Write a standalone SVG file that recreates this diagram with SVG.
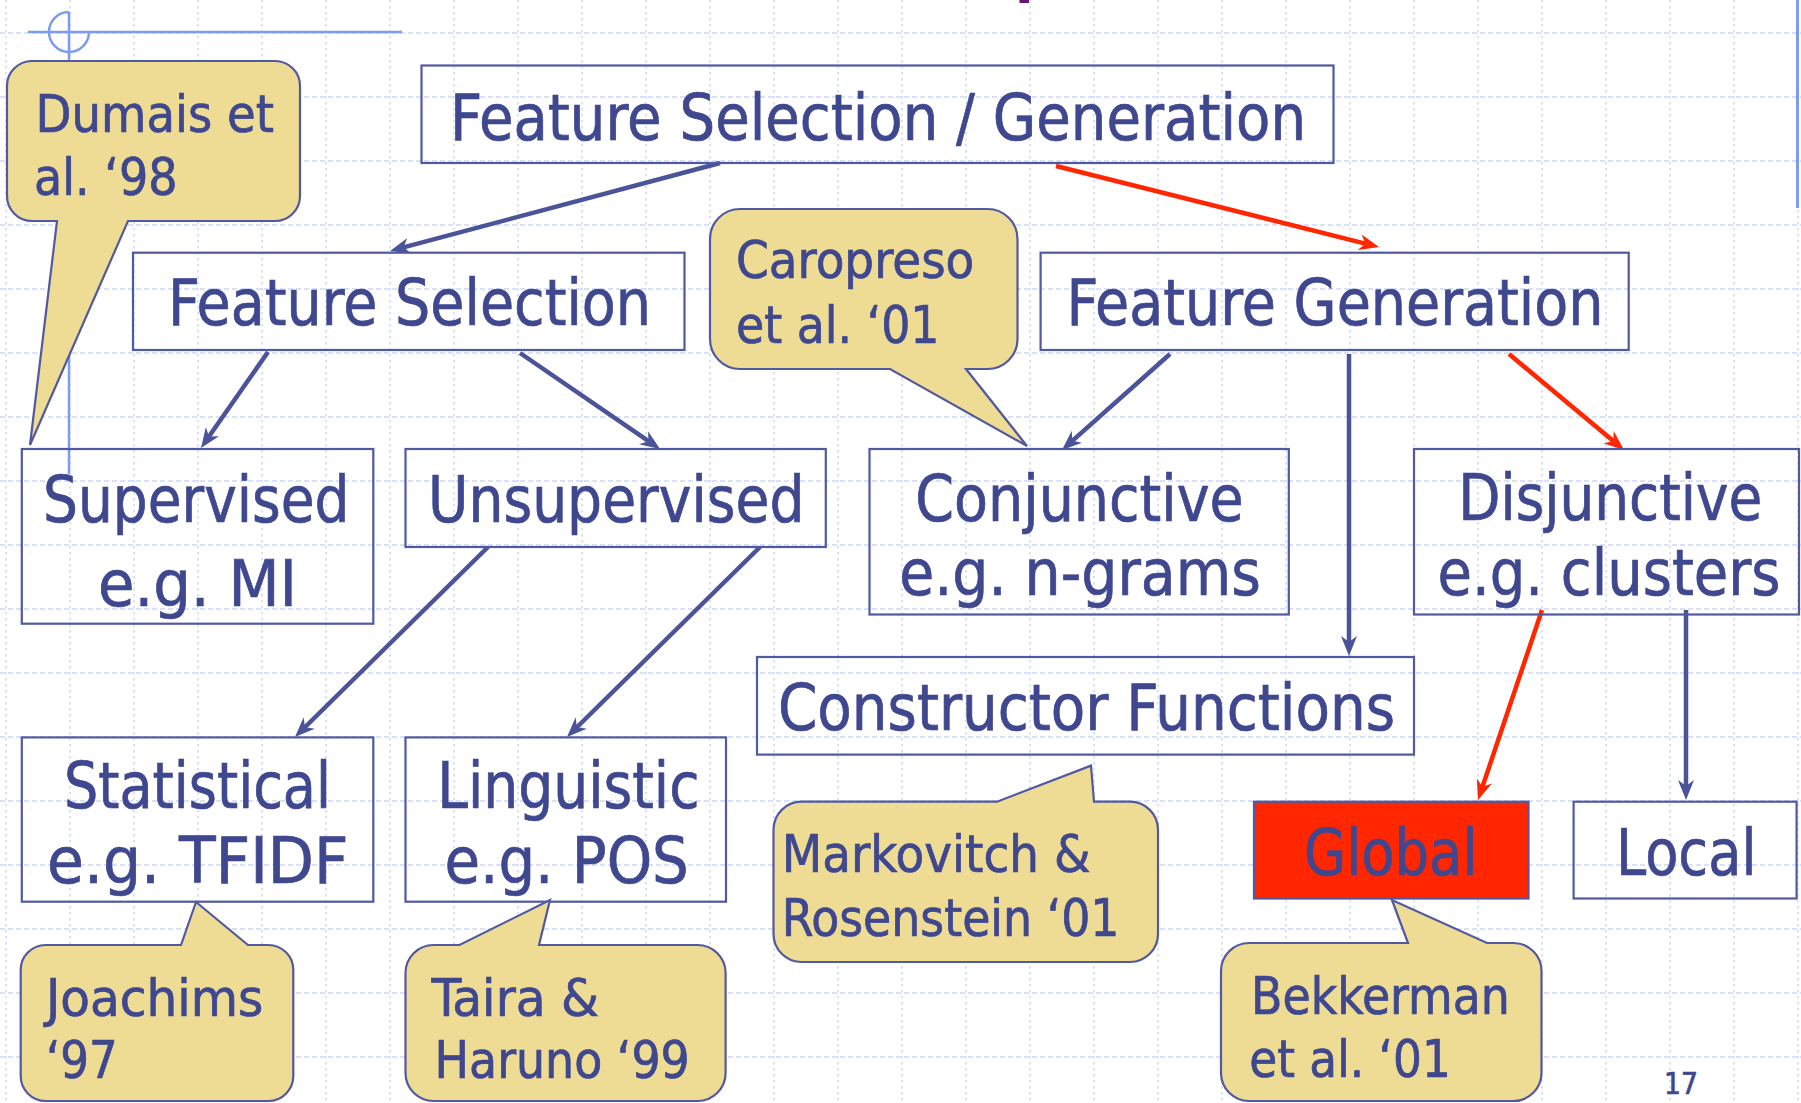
<svg xmlns="http://www.w3.org/2000/svg" width="1801" height="1103" viewBox="0 0 1801 1103">
<style>
.gv{fill:none;stroke:#d9e1f9;stroke-width:2;stroke-dasharray:2.5 3.5}
.gh{fill:none;stroke:#d9e1f9;stroke-width:2;stroke-dasharray:5 3}
.deco{fill:none;stroke:#7d9cf0;stroke-width:2.5}
.box{fill:none;stroke:#5159a0;stroke-width:2.2}
.callout{fill:#eedc95;stroke:#5159a0;stroke-width:2.2}
.conn{fill:none;stroke:#4b5399;stroke-width:4.5}
.red{stroke:#ff2600}
text{font-family:"DejaVu Sans Condensed","DejaVu Sans",sans-serif;fill:#3f478f;stroke:#3f478f;stroke-width:0.7}
.lbl{font-size:64px}
.note{font-size:51px}
</style>
<defs>
<marker id="ab" viewBox="0 0 20 16" refX="10" refY="8" markerWidth="20" markerHeight="16" markerUnits="userSpaceOnUse" orient="auto"><path d="M0,0 L20,8 L0,16 L6,8 Z" fill="#4b5399"/></marker>
<marker id="ar" viewBox="0 0 20 16" refX="10" refY="8" markerWidth="20" markerHeight="16" markerUnits="userSpaceOnUse" orient="auto"><path d="M0,0 L20,8 L0,16 L6,8 Z" fill="#ff2600"/></marker>
</defs>
<rect x="0" y="0" width="1801" height="1103" fill="#ffffff"/>
<g id="grid">
<path class="gv" d="M6,0V1103M70,0V1103M134,0V1103M198,0V1103M262,0V1103M326,0V1103M390,0V1103M454,0V1103M518,0V1103M582,0V1103M646,0V1103M710,0V1103M774,0V1103M838,0V1103M902,0V1103M966,0V1103M1030,0V1103M1094,0V1103M1158,0V1103M1222,0V1103M1286,0V1103M1350,0V1103M1414,0V1103M1478,0V1103M1542,0V1103M1606,0V1103M1670,0V1103M1734,0V1103M1798,0V1103"/>
<path class="gh" d="M0,33H1801M0,97H1801M0,161H1801M0,225H1801M0,289H1801M0,353H1801M0,417H1801M0,481H1801M0,545H1801M0,609H1801M0,673H1801M0,737H1801M0,801H1801M0,865H1801M0,929H1801M0,993H1801M0,1057H1801"/>
</g>
<g id="decoration">
<path class="deco" d="M69,12 A20,20 0 1 0 89,32"/>
<path class="deco" d="M28,32 H402 M69,12 V474"/>
<path class="deco" d="M1797.5,0 V208" style="stroke-width:3"/>
<rect x="1019.5" y="0" width="9.5" height="3" fill="#6a1470"/>
</g>
<g id="connectors">
<line class="conn" x1="720" y1="163" x2="399.7" y2="248.4" marker-end="url(#ab)"/>
<line class="conn red" x1="1056" y1="166" x2="1369.3" y2="244.6" marker-end="url(#ar)"/>
<line class="conn" x1="268" y1="352" x2="206.7" y2="439.8" marker-end="url(#ab)"/>
<line class="conn" x1="520" y1="353" x2="651.8" y2="443.4" marker-end="url(#ab)"/>
<line class="conn" x1="1170" y1="354" x2="1069.5" y2="443.4" marker-end="url(#ab)"/>
<line class="conn" x1="1349" y1="354" x2="1349" y2="646" marker-end="url(#ab)"/>
<line class="conn red" x1="1509" y1="354" x2="1616.3" y2="443.6" marker-end="url(#ar)"/>
<line class="conn" x1="488" y1="547" x2="302.1" y2="730" marker-end="url(#ab)"/>
<line class="conn" x1="760" y1="547" x2="574.1" y2="730" marker-end="url(#ab)"/>
<line class="conn red" x1="1542" y1="610" x2="1481.2" y2="790.5" marker-end="url(#ar)"/>
<line class="conn" x1="1686" y1="610" x2="1686" y2="790" marker-end="url(#ab)"/>
</g>
<g id="n-fsg"><rect class="box" x="421.5" y="65.5" width="912" height="97.5"/><text class="lbl" x="450" y="139.5" textLength="856" lengthAdjust="spacingAndGlyphs">Feature Selection / Generation</text></g>
<g id="n-fs"><rect class="box" x="133" y="252.7" width="551.5" height="97.3"/><text class="lbl" x="168" y="325" textLength="483" lengthAdjust="spacingAndGlyphs">Feature Selection</text></g>
<g id="n-fg"><rect class="box" x="1040.6" y="252.7" width="588.1" height="97.3"/><text class="lbl" x="1066.5" y="325" textLength="537" lengthAdjust="spacingAndGlyphs">Feature Generation</text></g>
<g id="n-sup"><rect class="box" x="21.8" y="449" width="351.5" height="174.7"/><text class="lbl" x="43" y="522" textLength="306.5" lengthAdjust="spacingAndGlyphs">Supervised</text><text class="lbl" x="98" y="606" textLength="199" lengthAdjust="spacingAndGlyphs">e.g. MI</text></g>
<g id="n-unsup"><rect class="box" x="405.5" y="449" width="420.3" height="98"/><text class="lbl" x="428" y="522" textLength="376.5" lengthAdjust="spacingAndGlyphs">Unsupervised</text></g>
<g id="n-conj"><rect class="box" x="869.5" y="449" width="419.3" height="165.5"/><text class="lbl" x="915.3" y="521" textLength="328.5" lengthAdjust="spacingAndGlyphs">Conjunctive</text><text class="lbl" x="899.2" y="595" textLength="361.6" lengthAdjust="spacingAndGlyphs">e.g. n-grams</text></g>
<g id="n-disj"><rect class="box" x="1414" y="449" width="385" height="165.5"/><text class="lbl" x="1458.2" y="520" textLength="304" lengthAdjust="spacingAndGlyphs">Disjunctive</text><text class="lbl" x="1437.5" y="595" textLength="343" lengthAdjust="spacingAndGlyphs">e.g. clusters</text></g>
<g id="n-cons"><rect class="box" x="757" y="657" width="657" height="97.6"/><text class="lbl" x="778" y="730.4" textLength="617" lengthAdjust="spacingAndGlyphs">Constructor Functions</text></g>
<g id="n-stat"><rect class="box" x="21.8" y="737.4" width="351.5" height="164.3"/><text class="lbl" x="64" y="807.7" textLength="267" lengthAdjust="spacingAndGlyphs">Statistical</text><text class="lbl" x="47" y="882.8" textLength="301.5" lengthAdjust="spacingAndGlyphs">e.g. TFIDF</text></g>
<g id="n-ling"><rect class="box" x="405.5" y="737.4" width="320.5" height="164.3"/><text class="lbl" x="437.2" y="807.7" textLength="262.3" lengthAdjust="spacingAndGlyphs">Linguistic</text><text class="lbl" x="444.5" y="882.8" textLength="244.3" lengthAdjust="spacingAndGlyphs">e.g. POS</text></g>
<g id="n-global"><rect class="box" x="1254" y="801.7" width="274.5" height="96.8" style="fill:#ff2600"/><text class="lbl" x="1304" y="875" textLength="173.5" lengthAdjust="spacingAndGlyphs">Global</text></g>
<g id="n-local"><rect class="box" x="1573.6" y="801.7" width="223" height="96.8"/><text class="lbl" x="1616" y="875" textLength="140.5" lengthAdjust="spacingAndGlyphs">Local</text></g>
<g id="c-dumais"><path class="callout" d="M32,61 H275 A25,25 0 0 1 300,86 V196 A25,25 0 0 1 275,221 H128 L30,445 L57,221 H32 A25,25 0 0 1 7,196 V86 A25,25 0 0 1 32,61 Z"/><text class="note" x="35.6" y="132.3" textLength="238.4" lengthAdjust="spacingAndGlyphs">Dumais et</text><text class="note" x="34" y="195" textLength="143.5" lengthAdjust="spacingAndGlyphs">al. ‘98</text></g>
<g id="c-caropreso"><path class="callout" d="M740,209 H987.5 A30,30 0 0 1 1017.5,239 V339 A30,30 0 0 1 987.5,369 H966 L1027,446 L890,369 H740 A30,30 0 0 1 710,339 V239 A30,30 0 0 1 740,209 Z"/><text class="note" x="736" y="278.3" textLength="238.3" lengthAdjust="spacingAndGlyphs">Caropreso</text><text class="note" x="736" y="343.3" textLength="203.5" lengthAdjust="spacingAndGlyphs">et al. ‘01</text></g>
<g id="c-joachims"><path class="callout" d="M45.7,945 H181 L196,902 L248,945 H268.3 A25,25 0 0 1 293.3,970 V1076 A25,25 0 0 1 268.3,1101 H45.7 A25,25 0 0 1 20.7,1076 V970 A25,25 0 0 1 45.7,945 Z"/><text class="note" x="46" y="1015.8" textLength="217.3" lengthAdjust="spacingAndGlyphs">Joachims</text><text class="note" x="46" y="1078" textLength="71.8" lengthAdjust="spacingAndGlyphs">‘97</text></g>
<g id="c-taira"><path class="callout" d="M433.5,945 H459.5 L550,900 L539,945 H697.6 A28,28 0 0 1 725.6,973 V1073 A28,28 0 0 1 697.6,1101 H433.5 A28,28 0 0 1 405.5,1073 V973 A28,28 0 0 1 433.5,945 Z"/><text class="note" x="431.4" y="1015.8" textLength="167.8" lengthAdjust="spacingAndGlyphs">Taira &amp;</text><text class="note" x="434.5" y="1078" textLength="255.3" lengthAdjust="spacingAndGlyphs">Haruno ‘99</text></g>
<g id="c-markovitch"><path class="callout" d="M801.5,801.7 H997 L1091,765.6 L1094,801.7 H1130 A28,28 0 0 1 1158,829.7 V934 A28,28 0 0 1 1130,962 H801.5 A28,28 0 0 1 773.5,934 V829.7 A28,28 0 0 1 801.5,801.7 Z"/><text class="note" x="781.7" y="872" textLength="308.8" lengthAdjust="spacingAndGlyphs" style="font-size:52px">Markovitch &amp;</text><text class="note" x="781.7" y="936.4" textLength="337.8" lengthAdjust="spacingAndGlyphs" style="font-size:52px">Rosenstein ‘01</text></g>
<g id="c-bekkerman"><path class="callout" d="M1249,943 H1408 L1392,900 L1487,943 H1513.5 A28,28 0 0 1 1541.5,971 V1073 A28,28 0 0 1 1513.5,1101 H1249 A28,28 0 0 1 1221,1073 V971 A28,28 0 0 1 1249,943 Z"/><text class="note" x="1251" y="1013.7" textLength="258.8" lengthAdjust="spacingAndGlyphs">Bekkerman</text><text class="note" x="1249.2" y="1077" textLength="201.6" lengthAdjust="spacingAndGlyphs">et al. ‘01</text></g>
<g id="page-number"><text x="1664" y="1094" textLength="34" lengthAdjust="spacingAndGlyphs" style="font-size:30px">17</text></g>
</svg>
